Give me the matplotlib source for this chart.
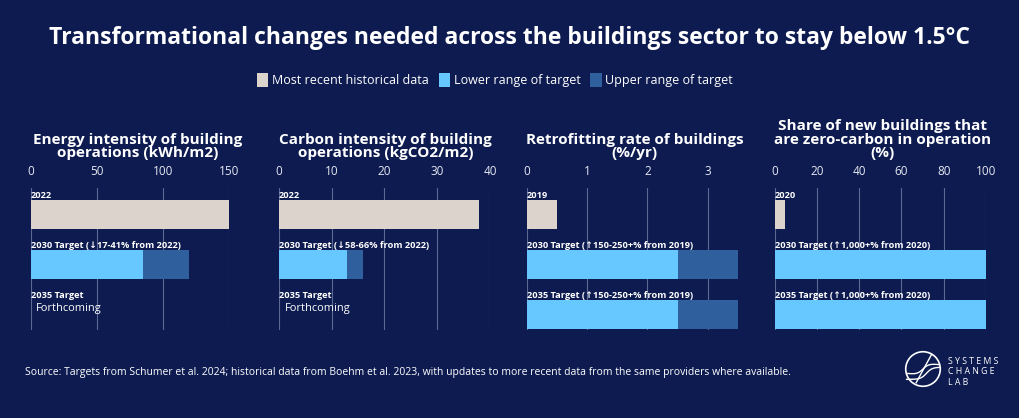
import matplotlib
matplotlib.use("Agg")
import matplotlib.pyplot as plt
from matplotlib.patches import Patch, Circle
import numpy as np

plt.rcParams['font.family'] = ['Open Sans', 'DejaVu Sans']

# Datos
titulo = "Transformational changes needed across the buildings sector to stay below 1.5°C"
fuente = ("Source: Targets from Schumer et al. 2024; historical data from Boehm et al. 2023, "
          "with updates to more recent data from the same providers where available.")

panel_titles = [
    "Energy intensity of building\noperations (kWh/m2)",
    "Carbon intensity of building\noperations (kgCO2/m2)",
    "Retrofitting rate of buildings\n(%/yr)",
    "Share of new buildings that\nare zero-carbon in operation\n(%)",
]
panel_ticks = [
    [0, 50, 100, 150],
    [0, 10, 20, 30, 40],
    [0, 1, 2, 3],
    [0, 20, 40, 60, 80, 100],
]
panel_xmax = [150, 40, 3.5, 100]

hist_labels = ["2022", "2022", "2019", "2020"]
hist_values = [150, 38, 0.5, 5]

t2030_labels = [
    "2030 Target (\u219317-41% from 2022)",
    "2030 Target (\u219358-66% from 2022)",
    "2030 Target (\u2191150-250+% from 2019)",
    "2030 Target (\u21911,000+% from 2020)",
]
t2030_low = [85, 13, 2.5, 100]
t2030_high = [120, 16, 3.5, 100]

t2035_labels = [
    "2035 Target",
    "2035 Target",
    "2035 Target (\u2191150-250+% from 2019)",
    "2035 Target (\u21911,000+% from 2020)",
]
t2035_low = [None, None, 2.5, 100]
t2035_high = [None, None, 3.5, 100]

legend_labels = ["Most recent historical data", "Lower range of target", "Upper range of target"]

# Estilo
fondo = "#0d1b50"
c_hist = "#dcd3cc"
c_low = "#66c8ff"
c_high = "#2f5f9c"
c_grid = "#5a6894"
blanco = "#ffffff"

W, H = 1020, 418
fig = plt.figure(figsize=(W / 100, H / 100), dpi=100, facecolor=fondo)

# posiciones de los ejes en pixeles (izquierda, ancho) y centro del titulo
ax_left = [30.7, 278.7, 526.7, 774.7]
ax_width = [198, 211.3, 211.2, 211.3]
title_cx = [138, 385.7, 634.5, 882.5]
ax_top, ax_bottom = 188, 330

fig.text(510 / W, 1 - 38 / H, titulo, ha="center", va="center",
         fontsize=16.5, fontweight="bold", color=blanco)

handles = [Patch(facecolor=c, edgecolor="none") for c in (c_hist, c_low, c_high)]
leg = fig.legend(handles, legend_labels, loc="center", bbox_to_anchor=(495 / W, 1 - 80 / H),
                 ncol=3, frameon=False, fontsize=9, handlelength=0.9, handleheight=1.35,
                 handletextpad=0.3, columnspacing=0.8)
for t in leg.get_texts():
    t.set_color(blanco)

bar_h = 0.58
for i in range(4):
    ax = fig.add_axes([ax_left[i] / W, 1 - ax_bottom / H,
                       ax_width[i] / W, (ax_bottom - ax_top) / H])
    ax.set_facecolor(fondo)
    ax.set_xlim(0, panel_xmax[i])
    ax.set_ylim(2.31, -0.53)
    ax.set_xticks(panel_ticks[i])
    ax.set_xticklabels([str(t) for t in panel_ticks[i]])
    ax.xaxis.tick_top()
    ax.tick_params(axis="x", length=0, pad=7, labelsize=8.5, labelcolor="#e6e8f0")
    ax.set_yticks([])
    for s in ax.spines.values():
        s.set_visible(False)
    ax.grid(axis="x", color=c_grid, linewidth=0.8)
    ax.set_axisbelow(True)

    ax.barh(0, hist_values[i], height=bar_h, color=c_hist)
    ax.text(0, -0.39, hist_labels[i], ha="left", va="center", fontsize=6.7,
            fontweight="bold", color=blanco)

    ax.barh(1, t2030_low[i], height=bar_h, color=c_low)
    ax.barh(1, t2030_high[i] - t2030_low[i], left=t2030_low[i], height=bar_h, color=c_high)
    ax.text(0, 0.61, t2030_labels[i], ha="left", va="center", fontsize=6.7,
            fontweight="bold", color=blanco)

    ax.text(0, 1.61, t2035_labels[i], ha="left", va="center", fontsize=6.7,
            fontweight="bold", color=blanco)
    if t2035_low[i] is None:
        ax.text(panel_xmax[i] * 0.027, 1.87, "Forthcoming", ha="left", va="center",
                fontsize=7.9, color=blanco)
    else:
        ax.barh(2, t2035_low[i], height=bar_h, color=c_low)
        ax.barh(2, t2035_high[i] - t2035_low[i], left=t2035_low[i], height=bar_h, color=c_high)

    fig.text(title_cx[i] / W, 1 - 160 / H, panel_titles[i], ha="center", va="bottom",
             fontsize=11, fontweight="bold", color=blanco, linespacing=0.95)

fig.text(25 / W, 1 - 373 / H, fuente, ha="left", va="center", fontsize=7.5, color=blanco)

# logo
lax = fig.add_axes([904 / W, 1 - 388 / H, 38 / W, 38 / H])
lax.set_xlim(-1.1, 1.1)
lax.set_ylim(-1.1, 1.1)
lax.set_aspect("equal")
lax.axis("off")
lax.add_patch(Circle((0, 0), 1, fill=False, edgecolor=blanco, linewidth=1.2))
u = np.linspace(-0.95, 0.95, 50)
lax.plot(u, 0.35 * np.tanh(3 * u) - 0.1 * u, color=blanco, linewidth=1)
lax.plot(u, 0.35 * np.tanh(3 * (u - 0.2)) - 0.25, color=blanco, linewidth=1)
lax.plot([-0.4, 0.5], [-0.8, 0.85], color=blanco, linewidth=1)
fig.text(948 / W, 1 - 372 / H, "S Y S T E M S\nC H A N G E\nL A B", ha="left", va="center",
         fontsize=6.3, color=blanco, linespacing=1.25)

fig.savefig("out.png", dpi=100, facecolor=fondo)
